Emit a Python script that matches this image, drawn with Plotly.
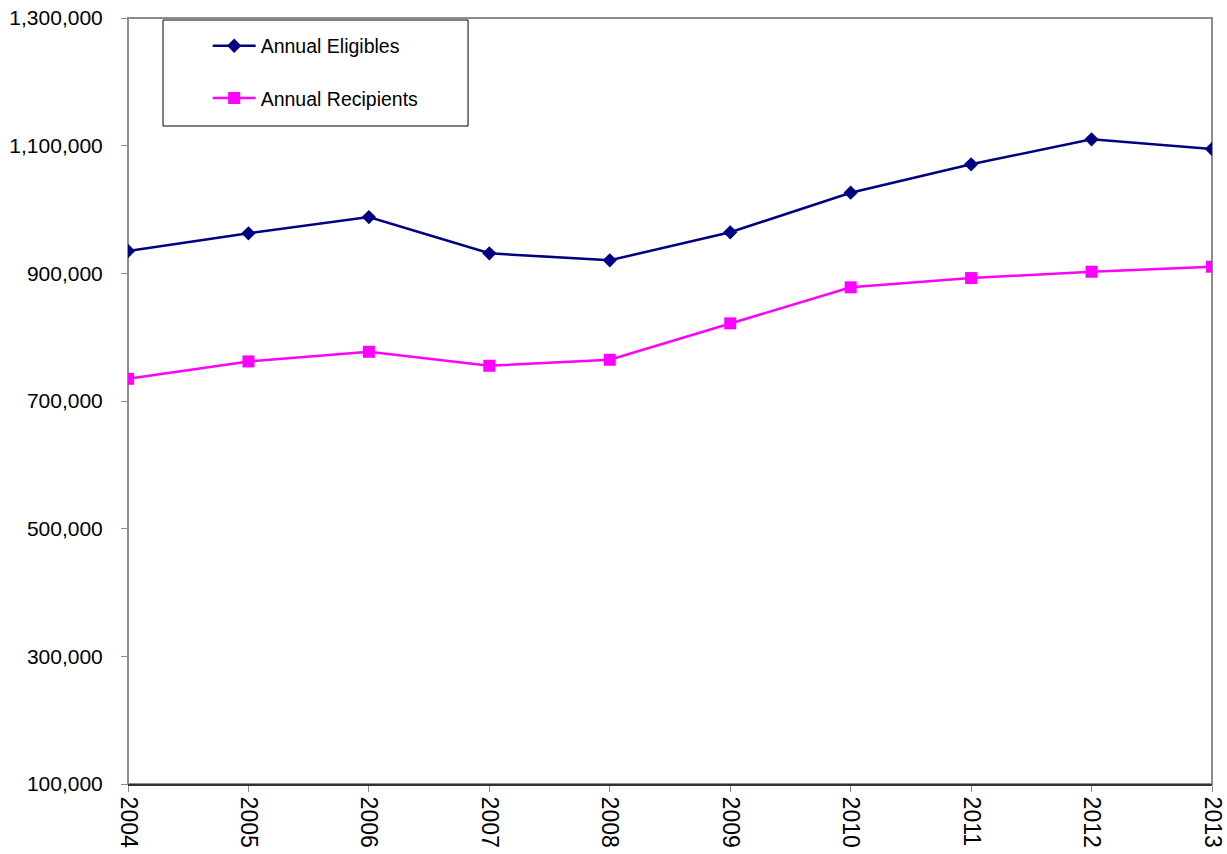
import plotly.graph_objects as go

years = ["2004", "2005", "2006", "2007", "2008", "2009", "2010", "2011", "2012", "2013"]
eligibles = [935000, 962700, 988200, 931400, 920400, 964300, 1026300, 1070800, 1110000, 1094800]
recipients = [734800, 762000, 777100, 755200, 764600, 821600, 878100, 892600, 902500, 910400]
y_ticks = [100000, 300000, 500000, 700000, 900000, 1100000, 1300000]

fig = go.Figure()
fig.add_trace(go.Scatter(
    x=years, y=eligibles, name="Annual Eligibles", mode="lines+markers",
    line=dict(color="#000080", width=2.5),
    marker=dict(symbol="diamond", size=11, color="#000080"),
    legendgroup="a"))
fig.add_trace(go.Scatter(
    x=years, y=recipients, name="Annual Recipients", mode="lines+markers",
    line=dict(color="#FF00FF", width=2.5),
    marker=dict(symbol="square", size=12, color="#FF00FF"),
    legendgroup="b"))

fig.update_layout(
    width=1227, height=854,
    margin=dict(l=128, r=15, t=18, b=70),
    paper_bgcolor="white", plot_bgcolor="white",
    font=dict(family="Liberation Sans, Arial, sans-serif", size=20, color="black"),
    showlegend=True,
    legend=dict(
        x=0.0735, y=0.9888, xanchor="left", yanchor="top",
        bgcolor="rgba(0,0,0,0)", borderwidth=0, itemwidth=43,
        font=dict(size=19.5), tracegroupgap=24, traceorder="grouped",
    ),
    shapes=[
        dict(type="rect", xref="paper", yref="paper", x0=0, x1=1, y0=0, y1=1,
             line=dict(color="#8c8c8c", width=2), layer="below"),
        dict(type="rect", xref="paper", yref="paper",
             x0=0.0323, x1=0.3137, y0=0.859, y1=0.9974,
             line=dict(color="black", width=1), fillcolor="white", layer="below"),
    ],
)
fig.update_xaxes(
    type="category", range=[0, 9], showgrid=False, zeroline=False, automargin=False,
    showline=True, linecolor="#333333", linewidth=2,
    ticks="outside", ticklen=6, tickcolor="#8c8c8c", tickwidth=1,
    tickangle=90, tickfont=dict(size=23),
)
fig.update_yaxes(
    range=[100000, 1300000], tickvals=y_ticks, tickformat=",d", automargin=False,
    showgrid=False, zeroline=False, showline=False,
    ticks="outside", ticklen=6, tickcolor="#8c8c8c", tickwidth=1,
    tickfont=dict(size=21), ticklabelstandoff=14,
)

fig.write_html("out.html")
